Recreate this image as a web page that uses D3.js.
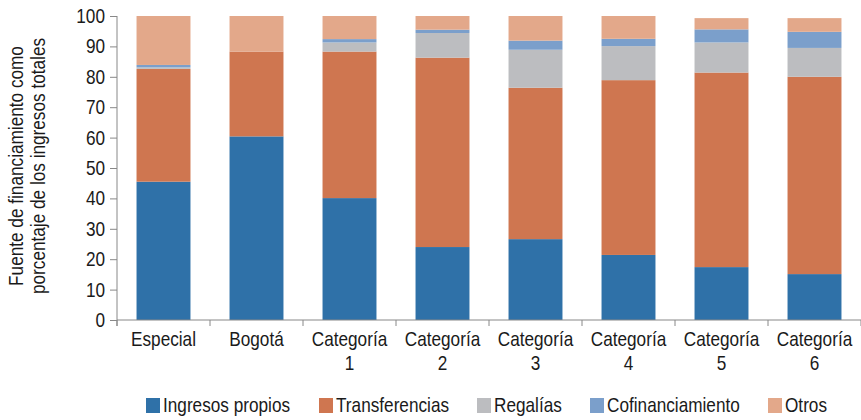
<!DOCTYPE html>
<html><head><meta charset="utf-8">
<script src="https://cdn.jsdelivr.net/npm/d3@7"></script>
<style>
body{margin:0;background:#fff;}
svg text{fill:#1a1a1a;}
</style></head>
<body><svg id="c" width="861" height="420"></svg>
<script>
const categories = [["Especial"],["Bogotá"],["Categoría","1"],["Categoría","2"],["Categoría","3"],["Categoría","4"],["Categoría","5"],["Categoría","6"]];
const seriesNames = ["Ingresos propios","Transferencias","Regalías","Cofinanciamiento","Otros"];
const ingresosPropios = [45.5, 60.4, 40.1, 24.0, 26.6, 21.4, 17.4, 15.1];
const transferencias  = [37.1, 27.9, 48.2, 62.3, 49.8, 57.5, 64.0, 64.9];
const regalias        = [0.5, 0, 3.0, 8.1, 12.5, 11.2, 9.9, 9.5];
const cofinanciamiento= [0.8, 0, 1.1, 1.1, 3.0, 2.4, 4.3, 5.3];
const otros           = [16.1, 11.7, 7.6, 4.5, 8.1, 7.5, 3.7, 4.5];
const yTicks = [0,10,20,30,40,50,60,70,80,90,100];
const colors = ["#2f71a8","#cf7650","#bcbdc0","#7b9fcb","#e3a88a"];
const yTitle = ["Fuente de financiamiento como","porcentaje de los ingresos totales"];

const series = [ingresosPropios, transferencias, regalias, cofinanciamiento, otros];
const svg = d3.select("#c");

function textW(fam){
  const t = svg.append("text").attr("font-family",fam).attr("font-size","20px").text("Ingresos propios WWW");
  const w = t.node().getComputedTextLength(); t.remove(); return w;
}
let FAM = "'Liberation Sans', Arial, sans-serif", SX = 0.86;
if (textW("'Liberation Sans Narrow', monospace") !== textW("monospace")) { FAM = "'Liberation Sans Narrow', sans-serif"; SX = 1.04; }
const FS = "20px";
function label(g, x, y, txt, anchor, extra){
  return g.append("text").attr("font-family",FAM).attr("font-size",FS)
    .attr("text-anchor",anchor||"start")
    .attr("transform",`translate(${x},${y}) ${extra||""} scale(${SX},1)`)
    .text(txt);
}

const x = d3.scaleBand().domain(d3.range(categories.length)).range([117, 861]).paddingInner(0.42).paddingOuter(0.21);
const y = d3.scaleLinear().domain([0,100]).range([320, 16]);

const rows = categories.map((c,i)=>{const r={i}; seriesNames.forEach((s,k)=>r[s]=series[k][i]); return r;});
const stacked = d3.stack().keys(seriesNames)(rows);

svg.append("g").selectAll("g").data(stacked).join("g")
  .attr("fill",(d,k)=>colors[k])
  .selectAll("rect").data(d=>d).join("rect")
  .attr("x",d=>x(d.data.i)).attr("width",x.bandwidth())
  .attr("y",d=>y(d[1])).attr("height",d=>Math.max(0,y(d[0])-y(d[1])));

// y axis
const ya = svg.append("g").attr("transform","translate(117,0)")
  .call(d3.axisLeft(y).tickValues(yTicks).tickSize(7).tickFormat(""));
ya.select(".domain").attr("stroke","#888").attr("d","M0,16V326");
ya.selectAll(".tick line").attr("stroke","#888");
const yl = svg.append("g");
yTicks.forEach(t=>label(yl, 105, y(t)+7, String(t), "end"));

// x axis
const xa = svg.append("g").attr("transform","translate(0,320)");
xa.append("line").attr("x1",117).attr("x2",861).attr("y1",0).attr("y2",0).attr("stroke","#888");
const step = x.step();
xa.selectAll("line.t").data(d3.range(categories.length+1)).join("line").attr("class","t")
  .attr("x1",i=>117+i*step).attr("x2",i=>117+i*step).attr("y1",0).attr("y2",6).attr("stroke","#888");
categories.forEach((c,i)=>c.forEach((ln,j)=>label(xa, x(i)+x.bandwidth()/2, 26+j*24, ln, "middle")));

// y title
yTitle.forEach((ln,j)=>label(svg, 23+j*22, 166, ln, "middle", "rotate(-90)"));

// legend
const legX = [146, 319, 477, 590, 768];
seriesNames.forEach((s,i)=>{
  const g = svg.append("g").attr("transform",`translate(${legX[i]},398)`);
  g.append("rect").attr("width",14).attr("height",15).attr("fill",colors[i]);
  label(g, 17, 14, s, "start");
});
</script></body></html>
